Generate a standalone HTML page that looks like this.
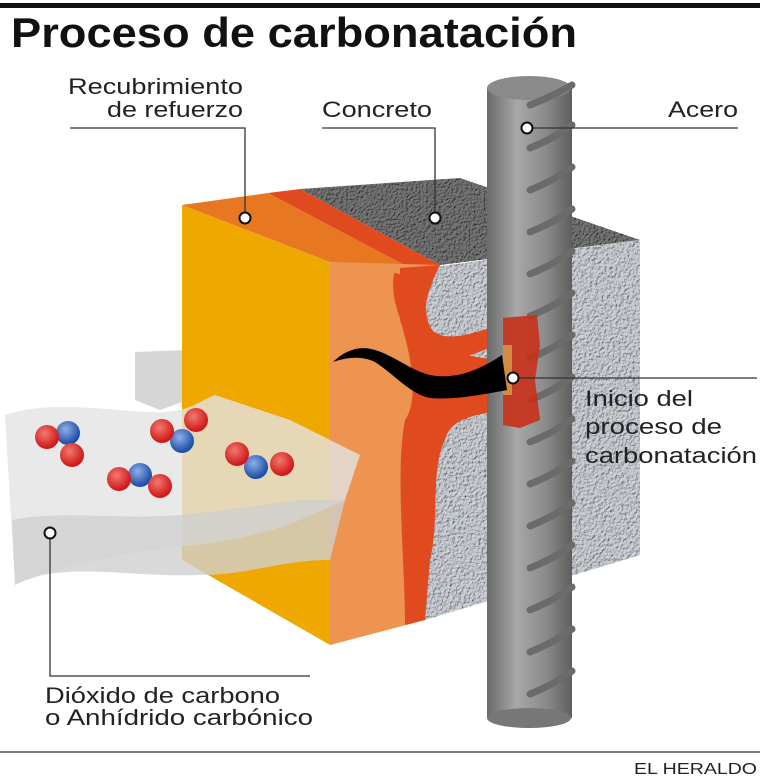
<!DOCTYPE html>
<html><head><meta charset="utf-8"><style>
html,body{margin:0;padding:0;background:#fff;}
svg{display:block;}
text{font-family:"Liberation Sans",sans-serif;}
</style></head><body>
<svg width="760" height="779" viewBox="0 0 760 779" xmlns="http://www.w3.org/2000/svg">
<defs>
<filter id="tex" x="0" y="0" width="100%" height="100%">
<feTurbulence type="fractalNoise" baseFrequency="0.35" numOctaves="2" seed="3" result="n"/>
<feDiffuseLighting in="n" surfaceScale="2" lighting-color="#d2d6dc" result="l"><feDistantLight azimuth="225" elevation="60"/></feDiffuseLighting>
<feComposite in="l" in2="SourceGraphic" operator="in"/>
</filter>
<filter id="tex2" x="0" y="0" width="100%" height="100%">
<feTurbulence type="fractalNoise" baseFrequency="0.4" numOctaves="2" seed="5" result="n"/>
<feDiffuseLighting in="n" surfaceScale="2" lighting-color="#7a7a7a" result="l"><feDistantLight azimuth="225" elevation="55"/></feDiffuseLighting>
<feComposite in="l" in2="SourceGraphic" operator="in"/>
</filter>
<linearGradient id="bar" x1="0" x2="1" y1="0" y2="0">
<stop offset="0" stop-color="#6a6a6a"/><stop offset="0.35" stop-color="#a8a8a8"/><stop offset="0.7" stop-color="#8a8a8a"/><stop offset="1" stop-color="#5e5e5e"/>
</linearGradient>
<radialGradient id="red" cx="0.4" cy="0.35" r="0.6"><stop offset="0" stop-color="#f07a70"/><stop offset="1" stop-color="#d11a1a"/></radialGradient>
<radialGradient id="blue" cx="0.4" cy="0.35" r="0.6"><stop offset="0" stop-color="#8fb0e8"/><stop offset="1" stop-color="#1f4fa8"/></radialGradient>
</defs>
<rect x="0" y="3" width="760" height="5" fill="#111"/>
<text x="11" y="47" font-size="42" font-weight="bold" fill="#111" textLength="566" lengthAdjust="spacingAndGlyphs">Proceso de carbonatación</text>

<path d="M135,352 L188,350 L188,400 L160,410 L135,400 Z" fill="#d6d6d6"/>
<polygon points="182,205 330,262 330,645 182,560" fill="#efa800"/>
<polygon points="182,205 268,193 410,268 330,262" fill="#e87722"/>
<polygon points="268,193 300,189 440,265 410,268" fill="#e04a1f"/>
<polygon points="300,189 460,178 640,240 440,265" fill="#555" filter="url(#tex2)"/>
<polygon points="330,262 440,265 425,620 330,645" fill="#ec9450"/>
<polygon points="425,268 640,240 640,555 425,620" fill="#bfc3c8" filter="url(#tex)"/>
<path d="M400,268 L440,265 C428,290 420,310 432,330 C448,345 480,330 500,325 L510,340 C480,350 455,365 440,360 C420,345 410,300 400,290 Z" fill="#e04a1f"/>
<path d="M400,290 C410,330 420,360 440,370 L505,380 L505,410 C470,415 450,420 445,440 C430,470 440,520 430,560 L425,620 L405,625 C405,560 395,470 405,420 C420,400 410,350 400,320 Z" fill="#e04a1f"/>
<path d="M405,275 C400,300 418,340 440,362 L500,372" stroke="#e04a1f" stroke-width="22" fill="none"/>
<rect x="487" y="88" width="85" height="630" fill="url(#bar)"/>
<ellipse cx="529" cy="718" rx="42" ry="10" fill="#777"/>
<ellipse cx="529" cy="88" rx="42" ry="12" fill="#8a8a8a"/>
<g stroke="#6b6b6b" stroke-width="7" stroke-linecap="round" fill="none">
<path d="M530,105 Q555,95 572,85"/><path d="M530,148 Q555,138 572,125"/><path d="M530,190 Q555,180 572,167"/>
<path d="M530,232 Q555,222 572,209"/><path d="M530,274 Q555,264 572,251"/><path d="M530,316 Q555,306 572,293"/>
<path d="M530,358 Q555,348 572,335"/><path d="M530,400 Q555,390 572,377"/><path d="M530,442 Q555,432 572,419"/>
<path d="M530,484 Q555,474 572,461"/><path d="M530,526 Q555,516 572,503"/><path d="M530,568 Q555,558 572,545"/>
<path d="M530,610 Q555,600 572,587"/><path d="M530,652 Q555,642 572,629"/><path d="M530,694 Q555,684 572,671"/>
</g>
<path d="M503,318 L537,315 L540,345 L535,380 L540,420 L520,428 L503,425 Z" fill="#c8301a" opacity="0.9"/>
<path d="M503,345 L512,345 L512,395 L503,395 Z" fill="#d48a40"/>
<path d="M333,362 C345,350 360,345 375,350 C395,356 410,370 430,375 C455,380 480,370 502,355 L507,390 C480,395 455,400 430,398 C410,394 395,375 375,362 C360,355 345,358 333,362 Z" fill="#000"/>

<path d="M5,415 C50,400 100,410 150,412 C190,414 200,400 215,395 L290,420 L360,455 L345,500 L300,520 C250,540 200,545 150,550 C90,560 50,570 15,585 Z" fill="#e3e3e3" opacity="0.8"/>
<path d="M12,520 C60,510 120,520 180,515 C230,510 260,505 300,500 L345,500 L330,560 C280,560 250,575 200,575 C130,578 60,560 15,585 Z" fill="#d0d0d0" opacity="0.8"/>
<g>
<circle cx="68" cy="433" r="12" fill="url(#blue)"/><circle cx="47" cy="437" r="12" fill="url(#red)"/><circle cx="72" cy="455" r="12" fill="url(#red)"/>
<circle cx="140" cy="475" r="12" fill="url(#blue)"/><circle cx="119" cy="479" r="12" fill="url(#red)"/><circle cx="160" cy="486" r="12" fill="url(#red)"/>
<circle cx="182" cy="441" r="12" fill="url(#blue)"/><circle cx="162" cy="431" r="12" fill="url(#red)"/><circle cx="196" cy="420" r="12" fill="url(#red)"/>
<circle cx="256" cy="467" r="12" fill="url(#blue)"/><circle cx="237" cy="454" r="12" fill="url(#red)"/><circle cx="282" cy="464" r="12" fill="url(#red)"/>
</g>

<g stroke="#333" stroke-width="1.3" fill="none">
<path d="M70,128 H245 V218"/><path d="M322,128 H435 V218"/><path d="M527,128 H738"/>
<path d="M513,378 H757"/><path d="M50,533 V676 H310"/>
<path d="M0,752 H760"/>
</g>
<g fill="#fff" stroke="#111" stroke-width="2">
<circle cx="245" cy="218" r="5.5"/><circle cx="435" cy="218" r="5.5"/><circle cx="527" cy="128" r="5.5"/>
<circle cx="513" cy="378" r="5.5"/><circle cx="50" cy="533" r="5.5"/>
</g>
<g font-size="22" fill="#222" lengthAdjust="spacingAndGlyphs">
<text x="68" y="94" textLength="175" lengthAdjust="spacingAndGlyphs">Recubrimiento</text>
<text x="107" y="117" textLength="136" lengthAdjust="spacingAndGlyphs">de refuerzo</text>
<text x="322" y="117" textLength="110" lengthAdjust="spacingAndGlyphs">Concreto</text>
<text x="668" y="117" textLength="70" lengthAdjust="spacingAndGlyphs">Acero</text>
<text x="585" y="406" textLength="108" lengthAdjust="spacingAndGlyphs">Inicio del</text>
<text x="585" y="434" textLength="137" lengthAdjust="spacingAndGlyphs">proceso de</text>
<text x="585" y="463" textLength="172" lengthAdjust="spacingAndGlyphs">carbonatación</text>
<text x="45" y="703" textLength="235" lengthAdjust="spacingAndGlyphs">Dióxido de carbono</text>
<text x="45" y="725" textLength="268" lengthAdjust="spacingAndGlyphs">o Anhídrido carbónico</text>
</g>
<text x="634" y="774" font-size="16" fill="#222" textLength="123" lengthAdjust="spacingAndGlyphs">EL HERALDO</text>
</svg>
</body></html>
